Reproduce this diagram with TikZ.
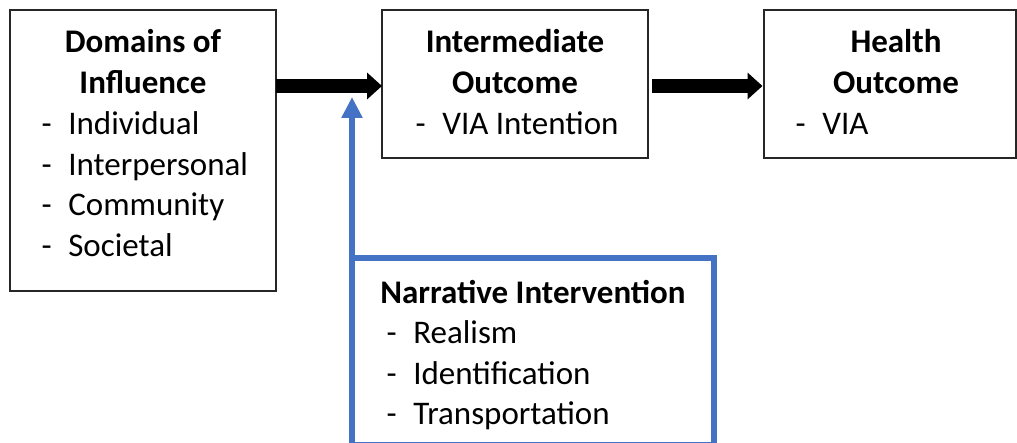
\documentclass[tikz,border=0pt]{standalone}
\usepackage{fontspec}
\setmainfont{Carlito}
\usetikzlibrary{arrows.meta}
\definecolor{officeblue}{HTML}{4472C4}
\newcommand{\dashitem}[1]{-\hspace{16.5pt}#1}
\begin{document}
\begin{tikzpicture}[x=1pt,y=1pt,
  box/.style={draw=black!85,line width=1.4pt,fill=white,minimum width=#1,inner sep=0pt,outer sep=0pt},
  bluebox/.style={draw=officeblue,line width=6pt,inner sep=0pt,outer sep=0pt,minimum width=362pt,minimum height=187pt},
  ttl/.style={font=\fontsize{33}{40}\selectfont\bfseries,anchor=base,inner sep=0pt},
  itm/.style={font=\fontsize{33}{40}\selectfont,anchor=base west,inner sep=0pt},
  blkarrow/.style={line width=14pt,-{Triangle[length=15pt,width=26pt]}},
  bluearrow/.style={draw=officeblue,line width=6pt,-{Triangle[length=21pt,width=20pt]},officeblue}
]
\useasboundingbox (0,0) rectangle (1017,442);
% boxes
\node[box=266pt,minimum height=281pt] (dom) at (143,291.5) {};
\node[box=266pt,minimum height=148pt] (inter) at (515,358) {};
\node[box=252pt,minimum height=148pt] (health) at (890,358) {};
\node[bluebox] (narr) at (533,90.5) {};
% texts box 1
\node[ttl] (t1a) at (143,389) {Domains of};
\node[ttl] (t1b) at (143,348) {Influence};
\node[itm] (i1a) at (41.5,307) {\dashitem{Individual}};
\node[itm] (i1b) at (41.5,266.5) {\dashitem{Interpersonal}};
\node[itm] (i1c) at (41.5,226) {\dashitem{Community}};
\node[itm] (i1d) at (41.5,185.5) {\dashitem{Societal}};
% texts box 2
\node[ttl] (t2a) at (515,389) {Intermediate};
\node[ttl] (t2b) at (515,348) {Outcome};
\node[itm] (i2a) at (415.5,307) {\dashitem{VIA Intention}};
% texts box 3
\node[ttl] (t3a) at (896,389) {Health};
\node[ttl] (t3b) at (896,348) {Outcome};
\node[itm] (i3a) at (795.5,307) {\dashitem{VIA}};
% narrative texts
\node[ttl] (t4a) at (533,139) {Narrative Intervention};
\node[itm] (i4a) at (386.5,99) {\dashitem{Realism}};
\node[itm] (i4b) at (386.5,58) {\dashitem{Identification}};
\node[itm] (i4c) at (386.5,18) {\dashitem{Transportation}};
% arrows
\coordinate (a1s) at (dom.east |- 0,356);
\coordinate (a1e) at (inter.west |- 0,356);
\coordinate (a2s) at (inter.east |- 0,356);
\coordinate (a2e) at (health.west |- 0,356);
\draw[blkarrow] (a1s) -- (a1e);
\draw[blkarrow,shorten <=4pt,shorten >=1.5pt] (a2s) -- (a2e);
\coordinate (btip) at (352,345);
\draw[bluearrow] ([yshift=-3pt]narr.north west) -- (btip);
\end{tikzpicture}
\end{document}
